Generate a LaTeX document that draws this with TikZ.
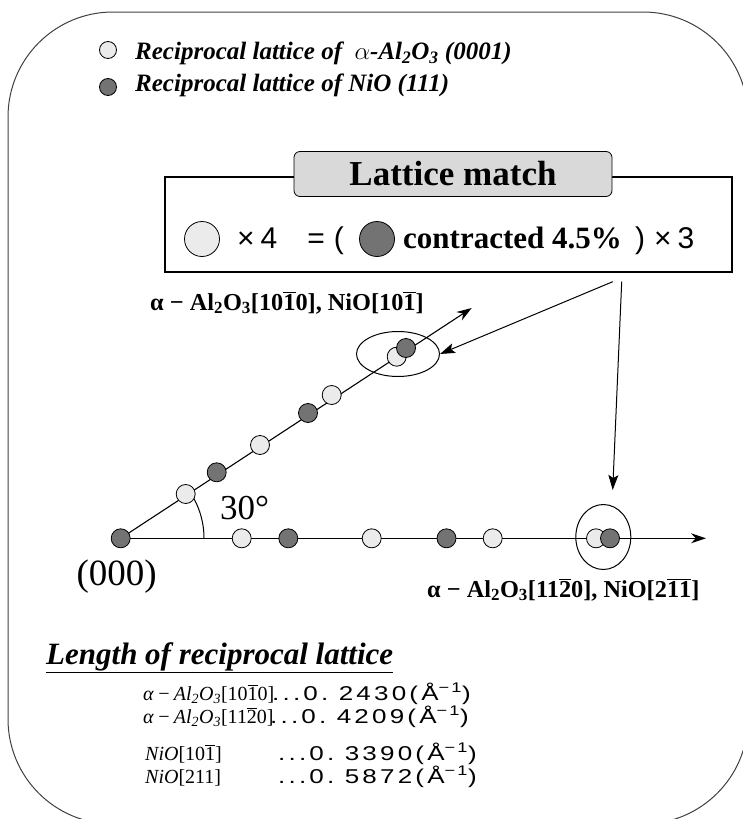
\documentclass[tikz,border=0pt]{standalone}
\usepackage{fontspec}
\setmainfont{Liberation Serif}
\newfontfamily\gothic[FakeStretch=1.3,LetterSpace=16]{Liberation Sans}
\newfontfamily\gothicplain{Liberation Sans}
\usetikzlibrary{arrows.meta,positioning,shapes.geometric,backgrounds}
\newcommand{\bbar}[1]{\ensuremath{\overline{\mbox{#1}}}}
\newcommand{\fsize}[1]{\fontsize{#1}{#1}\selectfont}
\tikzset{
  frame/.style    ={draw=black!75,line width=1pt,rounded corners=105pt},
  lightpt/.style  ={draw,circle,line width=0.8pt,fill=black!8,minimum size=19pt,inner sep=0pt},
  darkpt/.style   ={draw,circle,line width=0.8pt,fill=black!55,minimum size=19pt,inner sep=0pt},
  ring/.style     ={draw,ellipse,line width=1pt,inner sep=0pt},
  axis/.style     ={line width=1.1pt,-{Stealth[length=15pt,width=10pt]}},
  arrow/.style    ={line width=1pt,-{Stealth[length=15pt,width=10pt,inset=3pt]}},
  matchbox/.style ={draw,line width=2.5pt,minimum width=567pt,minimum height=95pt},
  tab/.style      ={draw,rounded corners=6pt,fill=black!15,line width=0.8pt,minimum width=318pt,
                    minimum height=45pt,inner sep=0pt,font=\fsize{35}\bfseries},
  legend/.style   ={anchor=base west,inner sep=0pt,font=\fsize{25}\bfseries\itshape},
  dirlabel/.style ={anchor=base west,inner sep=0pt,font=\fsize{24.3}\bfseries},
  formula/.style  ={anchor=base west,inner sep=0pt,font=\fsize{20}},
  value/.style    ={anchor=base west,inner sep=0pt,font=\gothic\fsize{20}},
  gothictext/.style={anchor=base west,inner sep=0pt,font=\gothicplain\fsize{30}}
}
\begin{document}
\begin{tikzpicture}[x=1pt,y=-1pt]
  \useasboundingbox (0,0) rectangle (743,819);
  \draw[frame] (8,12) rectangle (748,824);

  % legend
  \node[lightpt,minimum size=17pt] (keyAl) at (108,50) {};
  \node[darkpt,minimum size=17pt]  (keyNi) at (108,87) {};
  \node[legend] (keyAltext) at (135,59.5) {Reciprocal lattice of \ {\mdseries$\alpha$}-Al\textsubscript{2}O\textsubscript{3} (0001)};
  \node[legend] (keyNitext) at (135,91)   {Reciprocal lattice of NiO (111)};

  % lattice match box
  \node[matchbox] (match) at (448.5,224.5) {};
  \node[tab] (title) at (453,174) {Lattice match};
  \node[lightpt,minimum size=35pt] (mAl) at (202,239) {};
  \node[gothictext] (mfour) at (237,248) {×\hspace{0.2em}4\hspace{1em}=\hspace{0.3em}(};
  \node[darkpt,minimum size=35pt]  (mNi) at (377,239) {};
  \node[anchor=base west,inner sep=0pt,font=\fsize{31}\bfseries] (mtext) at (403,248) {contracted 4.5\%};
  \node[gothictext] (mthree) at (635,248) {)\hspace{0.3em}×\hspace{0.2em}3};

  % points on [10-10]
  \node[darkpt]  (o)  at (120.7,538.3) {};
  \node[lightpt] (a1) at (185.7,494) {};
  \node[darkpt]  (n1) at (216.7,472.3) {};
  \node[lightpt] (a2) at (260,445) {};
  \node[darkpt]  (n2) at (308,413) {};
  \node[lightpt] (a3) at (331.7,395) {};
  \node[lightpt] (a4) at (396.7,356.7) {};
  \node[darkpt]  (n3) at (406,348) {};
  \node[ring,minimum width=83pt,minimum height=45pt] (pairD) at (398,354) {};

  % points on [11-20]
  \node[lightpt] (b1) at (241.7,538.3) {};
  \node[darkpt]  (m1) at (288.3,538.3) {};
  \node[lightpt] (b2) at (371.7,538.3) {};
  \node[darkpt]  (m2) at (446.5,538.3) {};
  \node[lightpt] (b3) at (492.7,538.3) {};
  \node[lightpt] (b4) at (596,538.3) {};
  \node[darkpt]  (m3) at (610,538.3) {};
  \node[ring,minimum width=55pt,minimum height=65pt] (pairH) at (603.3,537) {};

  \coordinate (diagtip) at (471.7,308);
  \coordinate (axistip) at (706,538.3);
  \begin{scope}[on background layer]
    \draw[axis] (o.center) -- (axistip);
    \draw[axis] (o.center) -- (diagtip);
    \draw[line width=1pt] (o.center) ++(83.3,0) arc[start angle=0,end angle=-33.5,radius=83.3];
  \end{scope}

  \node[dirlabel] (diaglabel) at (150,310) {α − Al\textsubscript{2}O\textsubscript{3}[10\bbar{1}0], NiO[10\bbar{1}]};
  \node[dirlabel] (axislabel) at (427,597) {α − Al\textsubscript{2}O\textsubscript{3}[11\bbar{2}0], NiO[2\bbar{1}\bbar{1}]};
  \node[anchor=base west,inner sep=0pt,font=\fsize{35}] (angle) at (220,519) {30°};
  \node[font=\fsize{37}] (origin) at (116.7,577) {(000)};

  % arrows from the box
  \coordinate (fromA) at (612.7,281.7);
  \coordinate (fromB) at (621.7,281.7);
  \coordinate (toB)   at (612.7,490);
  \draw[arrow] (fromA) -- (pairD.east);
  \draw[arrow] (fromB) -- (toB);

  % lengths
  \node[anchor=base west,inner sep=0pt,font=\fsize{31}\bfseries\itshape] (lentitle) at (46,664) {\underline{Length of reciprocal lattice}};
  \node[formula] (f1) at (143,700) {\textit{α\,−\,Al\textsubscript{2}O\textsubscript{3}}[10\bbar{1}0]};
  \node[value]   (v1) at (272,700) {...0.\ 2430(Å\textsuperscript{−1})};
  \node[formula] (f2) at (143,723) {\textit{α\,−\,Al\textsubscript{2}O\textsubscript{3}}[11\bbar{2}0]};
  \node[value]   (v2) at (270,723) {...0.\ 4209(Å\textsuperscript{−1})};
  \node[formula] (f3) at (145,760) {\textit{NiO}[10\bbar{1}]};
  \node[value]   (v3) at (278,760) {...0.\ 3390(Å\textsuperscript{−1})};
  \node[formula] (f4) at (145,783) {\textit{NiO}[211]};
  \node[value]   (v4) at (278,783) {...0.\ 5872(Å\textsuperscript{−1})};
\end{tikzpicture}
\end{document}
